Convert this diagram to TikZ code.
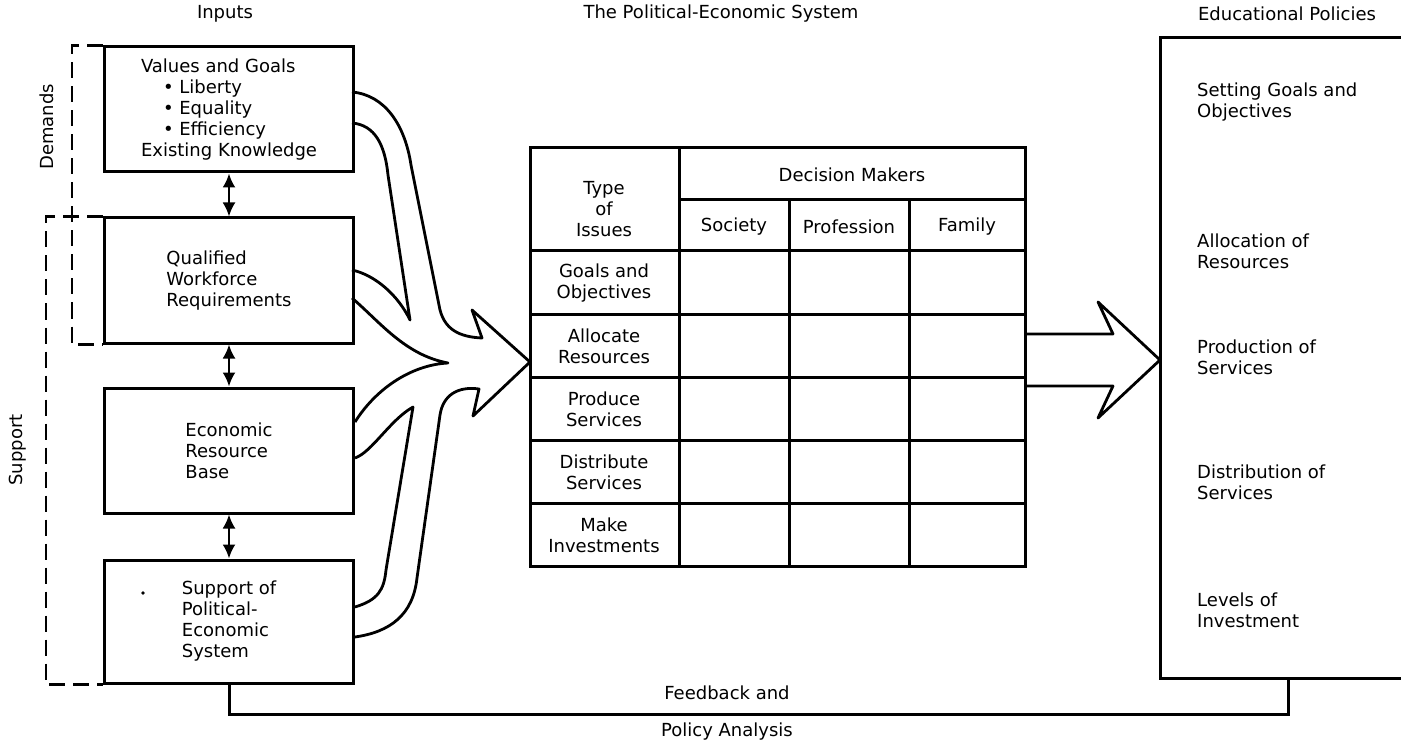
\documentclass[tikz,border=0pt]{standalone}
\usepackage{fontspec}
\setmainfont{DejaVu Sans}
\usetikzlibrary{arrows.meta}

\tikzset{
	txt/.style={font=\fontsize{18}{21}\selectfont, inner sep=0pt, align=center},
	inbox/.style={txt, draw, line width=3pt, minimum width=249pt, minimum height=125pt, align=left},
	ln/.style={line width=3pt},
	brk/.style={line width=2.6pt, dash pattern=on 16pt off 8pt},
	updown/.style={line width=2.4pt, {Latex[length=14pt,width=13pt]}-{Latex[length=14pt,width=13pt]}},
	flow/.style={line width=2.8pt, line join=round}
}

\begin{document}
\begin{tikzpicture}[x=1pt, y=-1pt]
			%%%%% START %%%%%
			\useasboundingbox (0,0) rectangle (1401,746);
			
			\node[txt] (tin) at (225,14) {Inputs};
			\node[txt] (tsys) at (721,14) {The Political-Economic System};
			\node[txt] (tpol) at (1287,14) {Educational Policies};
			
			% input boxes
			\node[inbox] (vals) at (229,109.5) {Values and Goals\\
				\hspace*{22pt}\textbullet\ Liberty\\
				\hspace*{22pt}\textbullet\ Equality\\
				\hspace*{22pt}\textbullet\ Efficiency\\
				Existing Knowledge};
			\node[inbox] (qual) at (229,280.5) {Qualified\\Workforce\\Requirements};
			\node[inbox] (econ) at (229,450.5) {Economic\\Resource\\Base};
			\node[inbox, minimum height=123pt] (supp) at (229,621.5) {Support of\\Political-\\Economic\\System};
			\fill (143,593) circle (1.8);
			
			\draw[updown] (vals.south) -- (qual.north);
			\draw[updown] (qual.south) -- (econ.north);
			\draw[updown] (econ.south) -- (supp.north);
			
			% demands / support brackets
			\draw[brk] (vals.north west) -- ++(-31,0) |- (qual.south west);
			\draw[brk] (qual.north west) -- ++(-57,0) |- (supp.south west);
			\node[txt, rotate=90] (dem) at (47,127) {Demands};
			\node[txt, rotate=90] (sup) at (18,450) {Support};
			
			% bands joining into one arrow
			\draw[flow] (352,92) .. controls (385,95) and (405,125) .. (411,165) -- (439,305)
				.. controls (443,330) and (460,337) .. (482,338) -- (472,310) -- (530,362)
				-- (473,416) -- (479,389) .. controls (458,386) and (443,395) .. (440,415)
				-- (417,578) .. controls (413,615) and (390,632) .. (355,637);
			\draw[flow] (352,123) .. controls (375,125) and (385,145) .. (388,175) -- (410,320)
				.. controls (398,295) and (375,275) .. (352,270);
			\draw[flow] (352,298) .. controls (380,322) and (405,355) .. (448,363)
				.. controls (410,365) and (375,390) .. (355,422);
			\draw[flow] (355,458) .. controls (372,452) and (390,420) .. (413,407)
				-- (386,570) .. controls (384,590) and (378,600) .. (355,607);
			
			% decision table
			\draw[ln] (530,148) rectangle (1025,566);
			\draw[ln] (679,200) -- (1025,200);
			\foreach \y in {251,314,377,440,503}
				\draw[ln] (530,\y) -- (1025,\y);
			\draw[ln] (679,148) -- (679,566);
			\draw[ln] (789,200) -- (789,566);
			\draw[ln] (909,200) -- (909,566);
			
			\node[txt] (ttype) at (604,209) {Type\\of\\Issues};
			\node[txt] (tdm) at (852,175) {Decision Makers};
			\node[txt] (tsoc) at (734,227) {Society};
			\node[txt] (tprof) at (849,227) {Profession};
			\node[txt] (tfam) at (967,227) {Family};
			\node[txt] (rgoal) at (604,283) {Goals and\\Objectives};
			\node[txt] (ralloc) at (604,346) {Allocate\\Resources};
			\node[txt] (rprod) at (604,409) {Produce\\Services};
			\node[txt] (rdist) at (604,472) {Distribute\\Services};
			\node[txt] (rinv) at (604,535) {Make\\Investments};
			
			% output arrow
			\draw[flow] (1025,334) -- (1113,334) -- (1098,302) -- (1160,360)
				-- (1098,418) -- (1113,386) -- (1025,386);
			
			% policies box, runs off the right edge
			\node[draw, line width=3pt, minimum width=256pt, minimum height=640pt] (pol) at (1288,358) {};
			\node[txt, anchor=west, align=left] (pgoal) at (1197,102) {Setting Goals and\\Objectives};
			\node[txt, anchor=west, align=left] (palloc) at (1197,251) {Allocation of\\Resources};
			\node[txt, anchor=west, align=left] (pprod) at (1197,357) {Production of\\Services};
			\node[txt, anchor=west, align=left] (pdist) at (1197,482) {Distribution of\\Services};
			\node[txt, anchor=west, align=left] (pinv) at (1197,610) {Levels of\\Investment};
			
			% feedback loop
			\draw[ln] (supp.south) -- ++(0,30) -| (pol.south);
			\node[txt] (fb) at (727,693) {Feedback and};
			\node[txt] (pa) at (727,732) {Policy Analysis};
			%%%%% END %%%%%
\end{tikzpicture}
\end{document}
